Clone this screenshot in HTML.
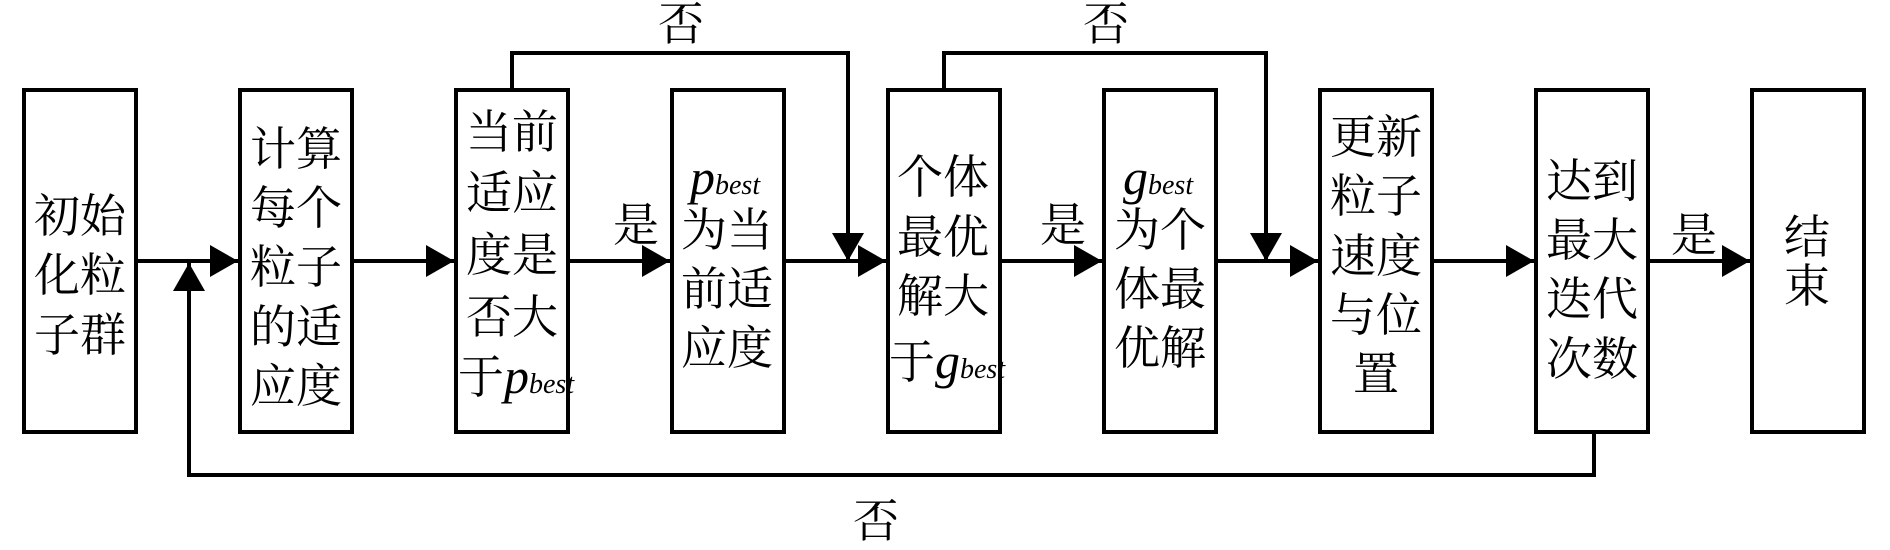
<!DOCTYPE html>
<html><head><meta charset="utf-8"><style>
html,body{margin:0;padding:0;background:#fff;}
svg{display:block;}
text{font-family:"Liberation Serif","Noto Serif CJK SC",serif;font-size:46px;fill:#000;}
.i{font-style:italic;}
</style></head><body>
<svg width="1890" height="550" viewBox="0 0 1890 550" xmlns="http://www.w3.org/2000/svg">
<defs>
<marker id="ar" markerWidth="28" markerHeight="32" refX="28" refY="16" orient="auto" markerUnits="userSpaceOnUse">
<polygon points="0,0 28,16 0,32" fill="#000"/>
</marker>
</defs>
<g fill="none" stroke="#000" stroke-width="4">
<rect x="24" y="90" width="112" height="342"/>
<rect x="240" y="90" width="112" height="342"/>
<rect x="456" y="90" width="112" height="342"/>
<rect x="672" y="90" width="112" height="342"/>
<rect x="888" y="90" width="112" height="342"/>
<rect x="1104" y="90" width="112" height="342"/>
<rect x="1320" y="90" width="112" height="342"/>
<rect x="1536" y="90" width="112" height="342"/>
<rect x="1752" y="90" width="112" height="342"/>
<line x1="136" y1="261" x2="238" y2="261" marker-end="url(#ar)"/>
<line x1="352" y1="261" x2="454" y2="261" marker-end="url(#ar)"/>
<line x1="568" y1="261" x2="670" y2="261" marker-end="url(#ar)"/>
<line x1="784" y1="261" x2="886" y2="261" marker-end="url(#ar)"/>
<line x1="1000" y1="261" x2="1102" y2="261" marker-end="url(#ar)"/>
<line x1="1216" y1="261" x2="1318" y2="261" marker-end="url(#ar)"/>
<line x1="1432" y1="261" x2="1534" y2="261" marker-end="url(#ar)"/>
<line x1="1648" y1="261" x2="1750" y2="261" marker-end="url(#ar)"/>
<polyline points="512,90 512,53 848,53 848,261" marker-end="url(#ar)"/>
<polyline points="944,90 944,53 1266,53 1266,261" marker-end="url(#ar)"/>
<polyline points="1594,432 1594,475 189,475 189,263" marker-end="url(#ar)"/>
</g>
<g text-anchor="middle">
<text x="80" y="232">初始</text>
<text x="80" y="291">化粒</text>
<text x="80" y="351">子群</text>
<text x="296" y="165">计算</text>
<text x="296" y="224">每个</text>
<text x="296" y="283">粒子</text>
<text x="296" y="343">的适</text>
<text x="296" y="402">应度</text>
<text x="512" y="148">当前</text>
<text x="512" y="209">适应</text>
<text x="512" y="271">度是</text>
<text x="512" y="333">否大</text>
<text x="727" y="246">为当</text>
<text x="727" y="305">前适</text>
<text x="727" y="364">应度</text>
<text x="943" y="193">个体</text>
<text x="943" y="253">最优</text>
<text x="943" y="312">解大</text>
<text x="1160" y="246">为个</text>
<text x="1160" y="305">体最</text>
<text x="1160" y="364">优解</text>
<text x="1376" y="153">更新</text>
<text x="1376" y="212">粒子</text>
<text x="1376" y="272">速度</text>
<text x="1376" y="331">与位</text>
<text x="1376" y="390">置</text>
<text x="1592" y="197">达到</text>
<text x="1592" y="256">最大</text>
<text x="1592" y="315">迭代</text>
<text x="1592" y="375">次数</text>
<text x="1807" y="253">结</text>
<text x="1807" y="302">束</text>
<text x="681" y="40">否</text>
<text x="1106" y="40">否</text>
<text x="876" y="537">否</text>
<text x="636" y="241">是</text>
<text x="1063" y="241">是</text>
<text x="1694" y="251">是</text>
</g>
<text x="458" y="393">于<tspan class="i" font-size="50">p</tspan><tspan class="i" font-size="28">best</tspan></text>
<text x="889" y="378">于<tspan class="i" font-size="50">g</tspan><tspan class="i" font-size="28">best</tspan></text>
<text x="690" y="194"><tspan class="i" font-size="50">p</tspan><tspan class="i" font-size="28">best</tspan></text>
<text x="1123" y="194"><tspan class="i" font-size="50">g</tspan><tspan class="i" font-size="28">best</tspan></text>
</svg>
</body></html>
